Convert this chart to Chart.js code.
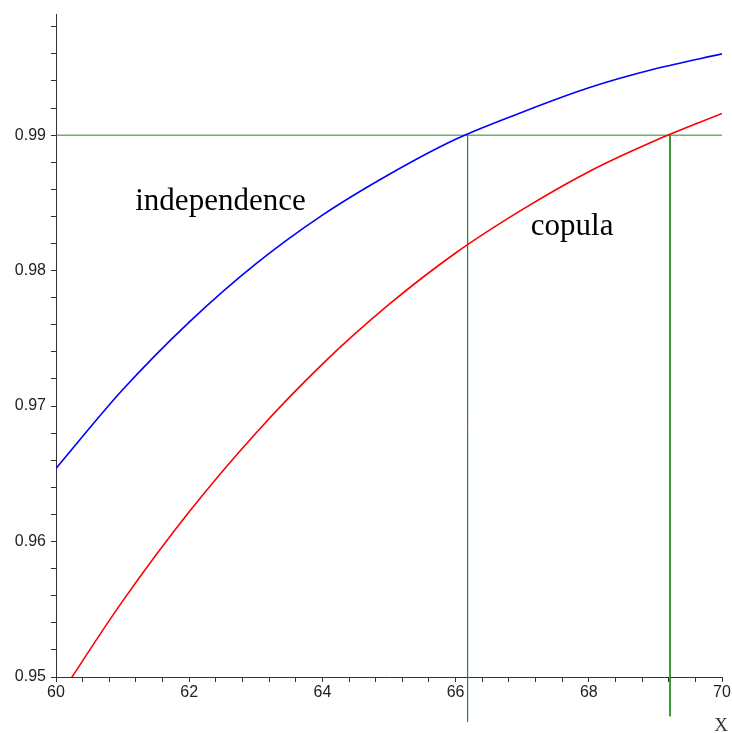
<!DOCTYPE html>
<html>
<head>
<meta charset="utf-8">
<script src="https://cdn.jsdelivr.net/npm/chart.js@4"></script>
<style>
    html, body { margin: 0; padding: 0; background: #ffffff; }
    #chart { display: block; }
</style>
</head>
<body>
<canvas id="chart" width="732" height="733"></canvas>
<script>
// values
const xValues = [60, 61, 62, 63, 64, 65, 66, 67, 68, 69, 70];
const independenceValues = [0.9654, 0.9712, 0.9762, 0.9805, 0.9841, 0.9871, 0.9897, 0.9917, 0.9935, 0.9949, 0.9960];
const copulaValues = [0.9482, 0.9556, 0.9622, 0.9680, 0.9731, 0.9775, 0.9813, 0.9845, 0.9873, 0.9896, 0.9916];

// green guide lines
const levelValue = 0.99;
const crossingX = [66.18, 69.22];
const crossingBottom = [0.9467, 0.9471];

// axes
const xMajorTicks = [60, 62, 64, 66, 68, 70];
const yMajorTicks = [0.95, 0.96, 0.97, 0.98, 0.99];
const xMinorStep = 0.4;
const yMinorStep = 0.002;
const xRange = [60, 70];
const yRange = [0.95, 0.9989];

const axisColor = '#333333';
const tickFont = { family: '"Liberation Sans", Arial, sans-serif', size: 16 };

function toPoints(xs, ys) {
    return xs.map((x, i) => ({ x: x, y: ys[i] }));
}

function buildTicks(min, max, step) {
    const ticks = [];
    const count = Math.floor((max - min) / step + 1e-6);
    for (let i = 0; i <= count; i++) {
        ticks.push({ value: +(min + i * step).toFixed(6) });
    }
    return ticks;
}

function isMajor(value, list) {
    return list.some(v => Math.abs(v - value) < 1e-6);
}

const guideDatasets = [{
    data: [{ x: xRange[0], y: levelValue }, { x: xRange[1], y: levelValue }],
    borderColor: '#1f8a1f',
    borderWidth: 1,
    pointRadius: 0
}].concat(crossingX.map((x, i) => ({
    data: [{ x: x, y: levelValue }, { x: x, y: crossingBottom[i] }],
    borderColor: '#1f8a1f',
    borderWidth: 1,
    pointRadius: 0,
    clip: false
})));

// curve names drawn as plain text in the plot
const curveLabels = {
    id: 'curveLabels',
    afterDraw(chart) {
        const ctx = chart.ctx;
        const xs = chart.scales.x;
        const ys = chart.scales.y;
        ctx.save();
        ctx.fillStyle = '#000000';
        ctx.textBaseline = 'alphabetic';
        ctx.textAlign = 'left';
        ctx.font = '31px "Liberation Serif", "Times New Roman", serif';
        ctx.fillText('independence', xs.getPixelForValue(61.19), ys.getPixelForValue(0.98449));
        ctx.fillText('copula', xs.getPixelForValue(67.13), ys.getPixelForValue(0.98265));

        ctx.font = '19px "Liberation Serif", "Times New Roman", serif';
        ctx.fillStyle = '#333333';
        ctx.textAlign = 'center';
        ctx.fillText('X', chart.chartArea.right - 1, 731);
        ctx.restore();
    }
};

const chart = new Chart(document.getElementById('chart').getContext('2d'), {
    type: 'line',
    data: {
        datasets: [{
            label: 'independence',
            data: toPoints(xValues, independenceValues),
            borderColor: '#0000ff',
            borderWidth: 1.6,
            pointRadius: 0,
            cubicInterpolationMode: 'monotone'
        }, {
            label: 'copula',
            data: toPoints(xValues, copulaValues),
            borderColor: '#ff0000',
            borderWidth: 1.6,
            pointRadius: 0,
            cubicInterpolationMode: 'monotone'
        }].concat(guideDatasets)
    },
    options: {
        responsive: false,
        devicePixelRatio: 1,
        animation: false,
        layout: { padding: { top: 12, right: 10, left: 0, bottom: 0 } },
        plugins: {
            legend: { display: false },
            tooltip: { enabled: false }
        },
        scales: {
            x: {
                type: 'linear',
                min: xRange[0],
                max: xRange[1],
                afterBuildTicks: axis => { axis.ticks = buildTicks(xRange[0], xRange[1], xMinorStep); },
                afterFit: axis => { axis.height = 56; },
                grid: { drawOnChartArea: false, tickLength: 5, color: axisColor },
                border: { color: axisColor, width: 1 },
                ticks: {
                    autoSkip: false,
                    maxRotation: 0,
                    padding: 1,
                    color: '#222222',
                    font: tickFont,
                    callback: value => isMajor(value, xMajorTicks) ? String(Math.round(value)) : ''
                }
            },
            y: {
                type: 'linear',
                min: yRange[0],
                max: yRange[1],
                afterBuildTicks: axis => { axis.ticks = buildTicks(yRange[0], yRange[1], yMinorStep); },
                afterFit: axis => { axis.width = 56; },
                grid: { drawOnChartArea: false, tickLength: 5, color: axisColor },
                border: { color: axisColor, width: 1 },
                ticks: {
                    autoSkip: false,
                    padding: 5,
                    color: '#222222',
                    font: tickFont,
                    callback: value => isMajor(value, yMajorTicks) ? value.toFixed(2) : ''
                }
            }
        }
    },
    plugins: [curveLabels]
});
</script>
</body>
</html>
